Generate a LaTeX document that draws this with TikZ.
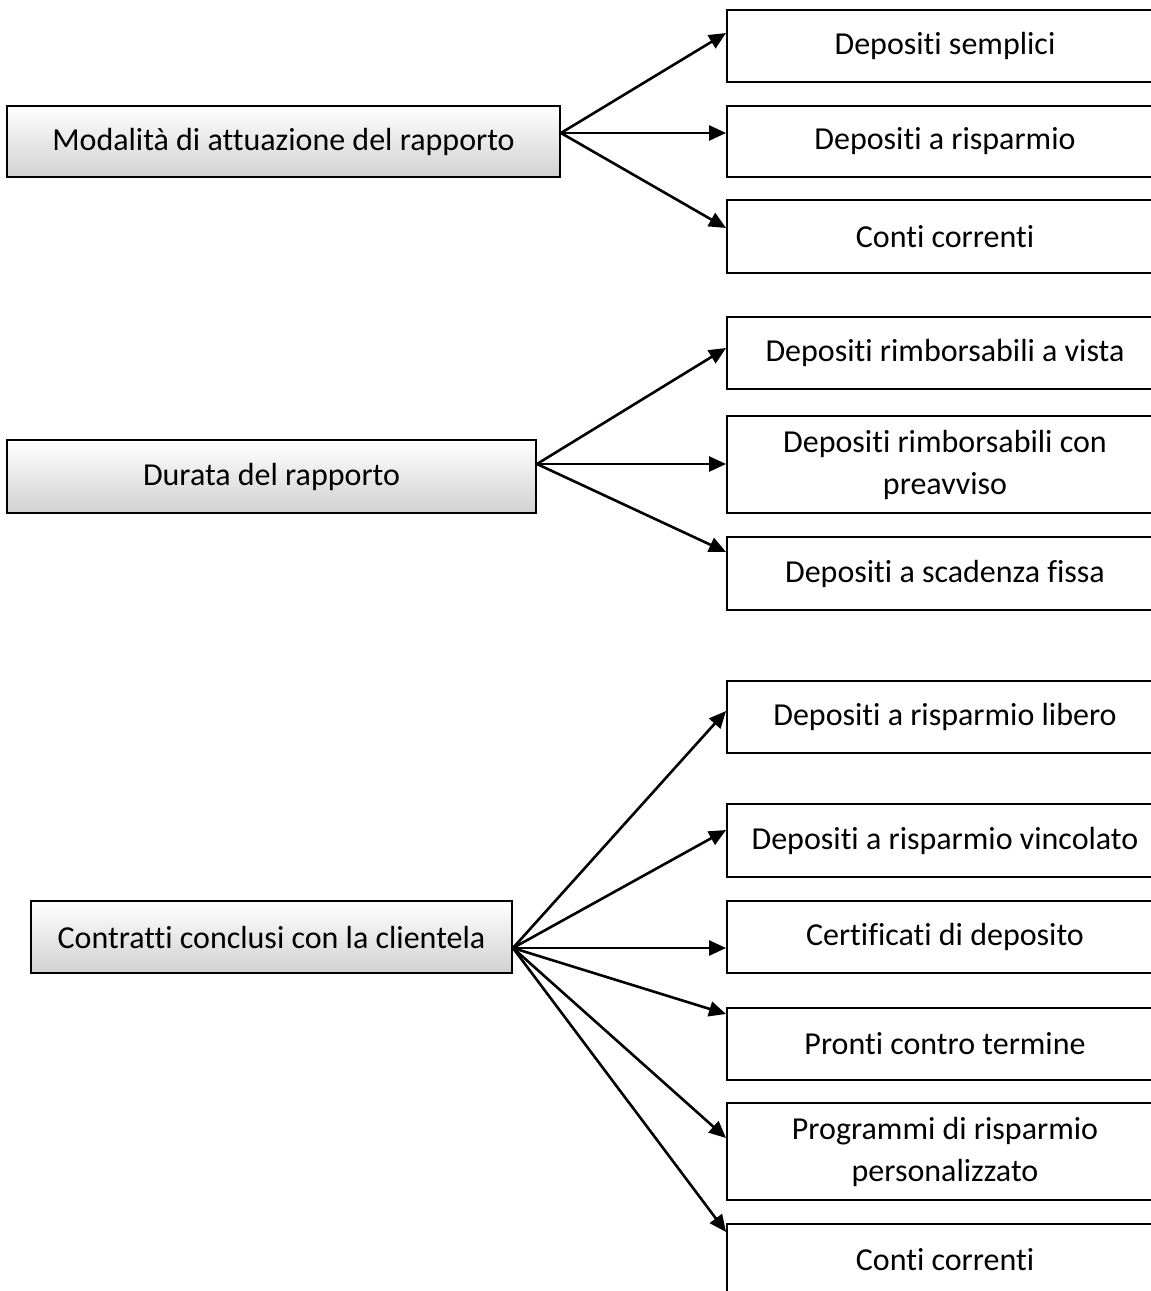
\documentclass[tikz,border=0pt]{standalone}
\usepackage{fontspec}
\setmainfont{Carlito}[Ligatures=NoCommon]
\usetikzlibrary{arrows.meta}
\begin{document}
\begin{tikzpicture}[x=1pt,y=-1pt,
  font=\fontsize{32}{42}\selectfont,
  srcbox/.style={draw=black, line width=1.9pt, top color=white, bottom color=black!18,
    inner sep=0pt, align=center},
  dstbox/.style={draw=black, line width=1.9pt, fill=white, minimum width=436pt,
    inner sep=0pt, align=center},
  link/.style={-{Triangle[length=17pt,width=15pt]}, line width=2.6pt}
]
\clip (0,0) rectangle (1151,1291);
\useasboundingbox (0,0) rectangle (1151,1291);

% classification criteria
\node[srcbox, minimum width=553pt, minimum height=71pt] (l1) at (283.5,141.5) {Modalità di attuazione del rapporto};
\node[srcbox, minimum width=529pt, minimum height=73pt] (l2) at (271.5,476.5) {Durata del rapporto};
\node[srcbox, minimum width=481pt, minimum height=72pt] (l3) at (271.5,937) {Contratti conclusi con la clientela};

% deposit types
\node[dstbox, minimum height=72pt] (r1) at (945,46) {Depositi semplici};
\node[dstbox, minimum height=71pt] (r2) at (945,141.5) {Depositi a risparmio};
\node[dstbox, minimum height=73pt] (r3) at (945,236.5) {Conti correnti};

\node[dstbox, minimum height=72pt] (r4) at (945,353) {Depositi rimborsabili a vista};
\node[dstbox, minimum height=97pt] (r5) at (945,464.5) {Depositi rimborsabili con\\preavviso};
\node[dstbox, minimum height=73pt] (r6) at (945,573.5) {Depositi a scadenza fissa};

\node[dstbox, minimum height=72pt] (r7) at (945,717) {Depositi a risparmio libero};
\node[dstbox, minimum height=73pt] (r8) at (945,840.5) {Depositi a risparmio vincolato};
\node[dstbox, minimum height=72pt] (r9) at (945,937) {Certificati di deposito};
\node[dstbox, minimum height=72pt] (r10) at (945,1044) {Pronti contro termine};
\node[dstbox, minimum height=97pt] (r11) at (945,1151.5) {Programmi di risparmio\\personalizzato};
\node[dstbox, minimum height=72pt] (r12) at (945,1260) {Conti correnti};

% connector ends
\coordinate (s1) at ([yshift=8.5pt]l1.east);
\coordinate (s2) at ([yshift=12.5pt]l2.east);
\coordinate (s3) at ([yshift=-11pt]l3.east);

\coordinate (t1) at ([yshift=13pt]r1.west);
\coordinate (t2) at ([yshift=8.5pt]r2.west);
\coordinate (t3) at ([yshift=8.5pt]r3.west);
\coordinate (t4) at ([yshift=5pt]r4.west);
\coordinate (t5) at ([yshift=0.5pt]r5.west);
\coordinate (t6) at ([yshift=21.5pt]r6.west);
\coordinate (t7) at ([yshift=6pt]r7.west);
\coordinate (t8) at ([yshift=10.5pt]r8.west);
\coordinate (t9) at ([yshift=-11pt]r9.west);
\coordinate (t10) at ([yshift=30pt]r10.west);
\coordinate (t11) at ([yshift=13.5pt]r11.west);
\coordinate (t12) at ([yshift=28pt]r12.west);

% connectors
\foreach \t in {t1,t2,t3} \draw[link] (s1) -- (\t);
\foreach \t in {t4,t5,t6} \draw[link] (s2) -- (\t);
\foreach \t in {t7,t8,t9,t10,t11,t12} \draw[link] (s3) -- (\t);
\end{tikzpicture}
\end{document}
